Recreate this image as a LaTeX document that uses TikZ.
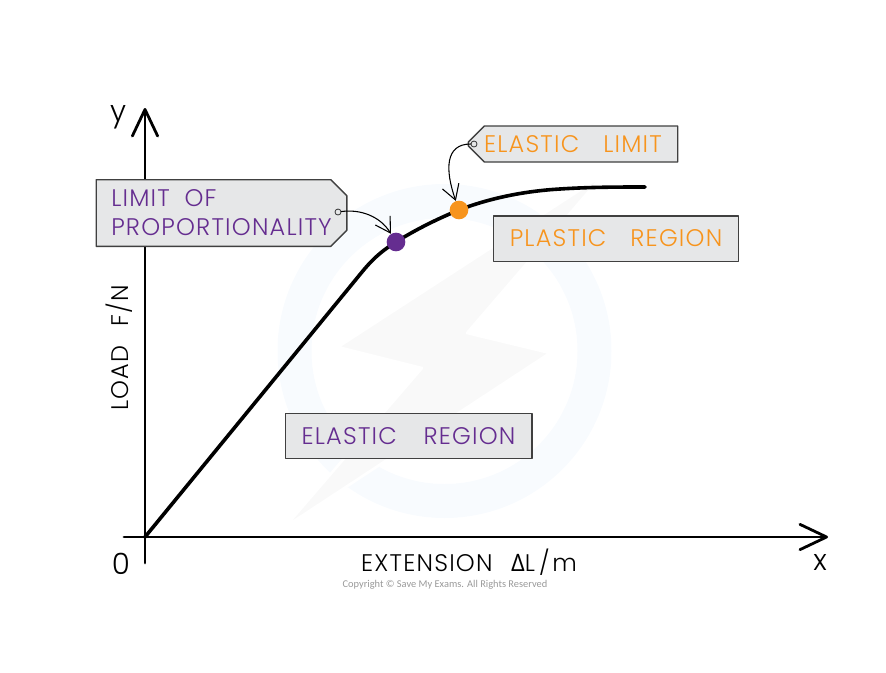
\documentclass[tikz,border=0pt]{standalone}
\usepackage{fontspec}
\setmainfont{Poppins}[UprightFont=* Light,LetterSpace=5]
\newfontfamily\greekfont{Open Sans}
\newfontfamily\copyfont{Carlito}
\usetikzlibrary{arrows.meta,shapes.misc}
\definecolor{purp}{HTML}{652D90}
\definecolor{oran}{HTML}{F7941D}
\definecolor{boxfill}{HTML}{E6E7E8}
\definecolor{ringcol}{HTML}{F8FBFE}
\tikzset{
	axis/.style={line width=2.1pt,-{Straight Barb[length=20pt,width=19pt,line width=2.1pt,round]}},
	lab/.style={font=\fontsize{18}{21.75}\selectfont,inner sep=0pt},
	biglab/.style={font=\fontsize{22}{22}\selectfont,inner sep=0pt},
	regionbox/.style={lab,draw=black!75,line width=1pt,fill=boxfill},
	tagbox/.style={regionbox,chamfered rectangle,chamfered rectangle xsep=6pt,chamfered rectangle ysep=6pt,align=left},
	hole/.style={circle,draw=black!80,fill=boxfill,line width=0.6pt,minimum size=4.5pt,inner sep=0pt},
	dot/.style={circle,minimum size=14pt,inner sep=0pt},
	pointer/.style={line width=0.8pt,-{Straight Barb[length=11pt,width=13pt,line width=0.8pt]}},
}
\begin{document}
\begin{tikzpicture}[x=0.75pt,y=-0.75pt,line join=round,line cap=round]
	\useasboundingbox (0,0) rectangle (886,672);
	% watermark
	\fill[ringcol,even odd rule] (444.5,351) circle (167) (444.5,351) circle (133);
	\filldraw[fill=black!2.5,draw=white,line width=2pt] (603,175)--(338,347)--(422,368)--(285,527)--(550,353)--(467,333)--cycle;
	% axes
	\draw[axis] (145,563)--(145,108);
	\draw[axis] (124,537)--(828,537);
	\node[biglab] (ylab) at (118,117) {y};
	\node[biglab] (xlab) at (820,562) {x};
	\node[biglab] (orig) at (121,564) {0};
	\node[lab,rotate=90] (load) at (119,348) {LOAD\hspace{14pt}F/N};
	\node[lab] (ext) at (469,562) {EXTENSION\hspace{14pt}{\greekfont\fontsize{18}{18}\selectfont Δ}L\hspace{3pt}/\hspace{2pt}m};
	\node[font=\copyfont\fontsize{7.8}{8}\selectfont,text=black!40,inner sep=0pt] (copy) at (445,585) {Copyright © Save My Exams. All Rights Reserved};
	% curve
	\draw[line width=2.7pt] (145,537)--(362,272) .. controls (375,256) and (385,249) .. (396,242) .. controls (415,230) and (437,219) .. (459,210) .. controls (490,198) and (525,191) .. (560,189) .. controls (590,187) and (620,187) .. (645,187);
	\node[dot,fill=purp] (plim) at (396,242) {};
	\node[dot,fill=oran] (elim) at (459,210) {};
	% labels
	\node[tagbox,text=purp,minimum width=188pt,minimum height=50pt,chamfered rectangle corners={north east,south east}] (tagp) at (221.5,213) {LIMIT\hspace{11pt}OF\\PROPORTIONALITY};
	\node[tagbox,text=oran,minimum width=157pt,minimum height=27pt,chamfered rectangle corners={north west,south west}] (tage) at (573,144) {ELASTIC\quad LIMIT};
	\node[regionbox,text=oran,minimum width=184pt,minimum height=34pt] (plastic) at (616,238.5) {PLASTIC\quad REGION};
	\node[regionbox,text=purp,minimum width=185pt,minimum height=34pt] (elastic) at (408.5,436) {ELASTIC\hspace{20pt}REGION};
	% pointers
	\node[hole] (holep) at (338,212) {};
	\node[hole] (holee) at (474,144) {};
	\draw[pointer] (holep) .. controls (360,209) and (380,216) .. (plim);
	\draw[pointer] (holee) .. controls (445,144) and (445,170) .. (elim);
\end{tikzpicture}
\end{document}
